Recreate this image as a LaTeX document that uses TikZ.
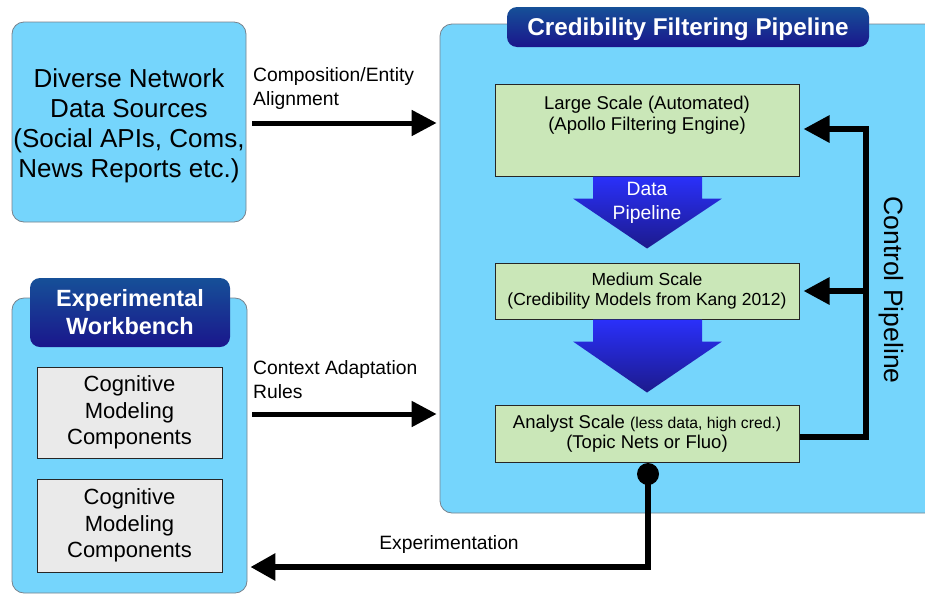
\documentclass[tikz,border=0pt]{standalone}
\usepackage{fontspec}
\setmainfont{Liberation Sans}
\usetikzlibrary{arrows.meta,positioning}
\definecolor{panelblue}{RGB}{117,213,252}
\definecolor{panelline}{RGB}{120,130,140}
\definecolor{boxgreen}{RGB}{202,231,184}
\definecolor{boxgray}{RGB}{234,234,234}
\definecolor{badgetop}{RGB}{22,80,152}
\definecolor{badgebot}{RGB}{26,22,140}
\definecolor{arrtop}{RGB}{42,48,250}
\definecolor{arrbot}{RGB}{28,26,140}
\tikzset{
  panel/.style={draw=panelline, line width=0.8pt, fill=panelblue, rounded corners=12pt, inner sep=0pt},
  badge/.style={top color=badgetop, bottom color=badgebot, draw=none, rounded corners=10pt, inner sep=0pt,
    text=white, font=\bfseries\fontsize{23.5}{28}\selectfont, align=center},
  greenbox/.style={draw=black!85, line width=1pt, fill=boxgreen, inner sep=0pt, minimum width=304pt},
  graybox/.style={draw=black!85, line width=1pt, fill=boxgray, inner sep=0pt, minimum width=185pt,
    align=center, font=\fontsize{22}{26.5}\selectfont},
  gtext/.style={align=center, font=\fontsize{18.5}{20.5}\selectfont, inner sep=0pt},
  lbl/.style={align=left, font=\fontsize{19.3}{24}\selectfont, inner sep=0pt},
  fatarrow/.style={line width=5pt, -{Triangle[length=25pt,width=25pt]}},
  ctrlline/.style={line width=6pt},
  ctrlarrow/.style={line width=6pt, -{Triangle[length=26pt,width=26pt]}},
  bigshade/.style={top color=arrtop, bottom color=arrbot, draw=none},
}
\begin{document}
\begin{tikzpicture}[x=1pt,y=-1pt]
\clip (0,0) rectangle (925,595);
\fill[white] (0,0) rectangle (925,595);

% panels
\node[panel, minimum width=234pt, minimum height=200pt] (src) at (129,122) {};
\node[align=center, font=\fontsize{26}{30}\selectfont, inner sep=0pt] (srctxt) at (129,126)
  {Diverse Network\\Data Sources\\(Social APIs, Coms,\\News Reports etc.)};
\node[panel, minimum width=505pt, minimum height=489pt] (pipe) at (692.5,268.5) {};
\node[panel, minimum width=235pt, minimum height=295pt] (wb) at (129.5,445.5) {};

% badges
\node[badge, minimum width=362pt, minimum height=40pt, font=\bfseries\fontsize{24.3}{28}\selectfont,
  text height=22pt, text depth=5pt] (title) at (688,27) {Credibility Filtering Pipeline};
\node[badge, minimum width=200pt, minimum height=69pt] (wbtitle) at (130,312.5) {Experimental\\Workbench};

% gray boxes
\node[graybox, minimum height=91pt] (cog1) at (129.5,412.5) {Cognitive\\Modeling\\Components};
\node[graybox, minimum height=93pt] (cog2) at (129.5,525.5) {Cognitive\\Modeling\\Components};

% green boxes
\node[greenbox, minimum height=92pt] (large) at (647,130) {};
\node[gtext, anchor=north] (largetxt) at ([yshift=-12.5pt]large.north) {Large Scale (Automated)\\(Apollo Filtering Engine)};
\node[greenbox, minimum height=56pt, gtext, minimum width=304pt, font=\fontsize{17.5}{20.5}\selectfont] (medium) at (647,291)
  {Medium Scale\\(Credibility Models from Kang 2012)};
\node[greenbox, minimum height=57pt, gtext, minimum width=304pt] (analyst) at (647,433.5)
  {Analyst Scale {\fontsize{15.7}{17}\selectfont(less data, high cred.)}\\(Topic Nets or Fluo)};

% data pipeline arrows
\shade[bigshade] ([xshift=-54pt]large.south) -- ([xshift=55pt]large.south) -- ([xshift=55pt,yshift=-22pt]large.south)
  -- ([xshift=75pt,yshift=-22pt]large.south) -- ([yshift=-72pt]large.south) -- ([xshift=-74pt,yshift=-22pt]large.south)
  -- ([xshift=-54pt,yshift=-22pt]large.south) -- cycle;
\node[font=\fontsize{19.3}{24}\selectfont, text=white, align=center, inner sep=0pt] (dp) at (647,203) {Data\\Pipeline};
\shade[bigshade] ([xshift=-54pt]medium.south) -- ([xshift=55pt]medium.south) -- ([xshift=55pt,yshift=-22pt]medium.south)
  -- ([xshift=75pt,yshift=-22pt]medium.south) -- ([yshift=-73pt]medium.south) -- ([xshift=-74pt,yshift=-22pt]medium.south)
  -- ([xshift=-54pt,yshift=-22pt]medium.south) -- cycle;

% input arrows
\coordinate (ya) at (0,123);
\coordinate (yb) at (0,414);
\draw[fatarrow] ([xshift=6pt]src.east |- ya) -- ([xshift=-3pt]pipe.west |- ya);
\node[lbl, anchor=west] (lcomp) at (253,88.5) {Composition/Entity\\Alignment};
\draw[fatarrow] ([xshift=5pt]wb.east |- yb) -- ([xshift=-3pt]pipe.west |- yb);
\node[lbl, anchor=west] (lctx) at (253,379.5) {Context Adaptation\\Rules};

% control pipeline
\coordinate (ctrl) at (866,0);
\coordinate (yc) at (0,437);
\coordinate (yl) at (0,129);
\draw[ctrlline] (analyst.east |- yc) -| (ctrl |- yl);
\draw[ctrlarrow] ([xshift=3pt]ctrl |- yl) -- ([xshift=4pt]large.east |- yl);
\draw[ctrlarrow] (ctrl |- medium.east) -- ([xshift=4pt]medium.east);
\node[rotate=-90, font=\fontsize{26.5}{30}\selectfont, inner sep=0pt] (lctrl) at (891,290) {Control Pipeline};

% experimentation
\node[circle, fill=black, minimum size=22pt, inner sep=0pt] (dot) at (648,474) {};
\coordinate (ye) at (0,567);
\draw[line width=6pt, -{Triangle[length=25pt,width=26pt]}] (dot.center) |- ([xshift=3pt]wb.east |- ye);
\node[lbl] (lexp) at (449,544) {Experimentation};
\end{tikzpicture}
\end{document}
